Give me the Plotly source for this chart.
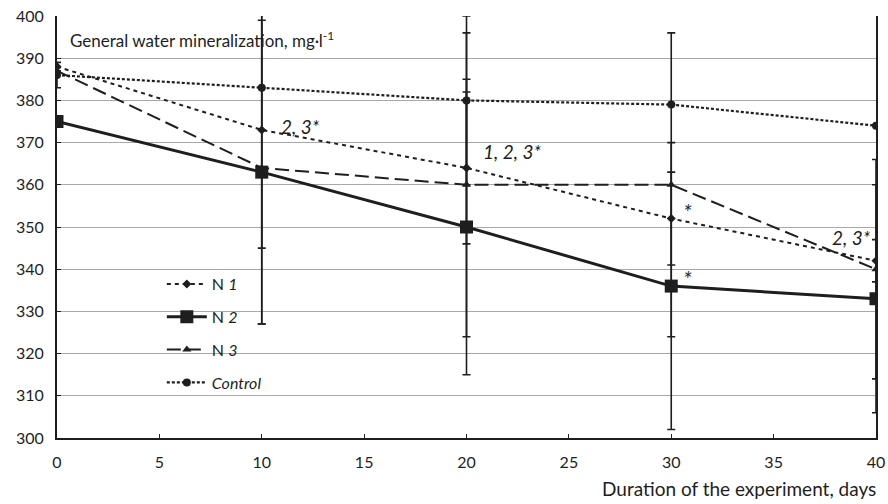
import plotly.graph_objects as go

days = [0, 10, 20, 30, 40]
n1 = [388, 373, 364, 352, 342]
n2 = [375, 363, 350, 336, 333]
n3 = [387, 364, 360, 360, 340]
control = [386, 383, 380, 379, 374]

n1_err = [0, 28, 18, 11, 5]
n2_err = [0, 36, 35, 34, 27]
n3_err = [0, 37, 36, 36, 26]
control_err = [3, 0, 20, 0, 0]

y_ticks = [300, 310, 320, 330, 340, 350, 360, 370, 380, 390, 400]
x_ticks = [0, 5, 10, 15, 20, 25, 30, 35, 40]

notes = [
    (11.9, 373.8, "2, 3*"),
    (22.2, 367.8, "1, 2, 3*"),
    (30.8, 353.6, "*"),
    (30.8, 337.9, "*"),
    (38.8, 347.6, "2, 3*"),
]

INK = "#1e1e1e"
FONT = "Lato, Open Sans, sans-serif"

fig = go.Figure()

def add(name, ys, errs, dash, width, symbol, size, group):
    fig.add_trace(go.Scatter(
        x=days, y=ys, name=name, mode="lines+markers",
        legendgroup=group,
        line=dict(color=INK, width=width, dash=dash),
        marker=dict(symbol=symbol, size=size, color=INK),
        error_y=dict(type="data", array=errs, visible=True,
                     color=INK, thickness=1.6, width=4),
    ))

add("N <i>1</i>", n1, n1_err, "4px,4px", 2, "diamond", 7, "g1")
add("N <i>2</i>", n2, n2_err, "solid", 3, "square", 13, "g2")
add("N <i>3</i>", n3, n3_err, "14px,6px", 2, "triangle-up", 8, "g3")
add("<i>Control</i>", control, control_err, "3px,2px", 2.2, "circle", 8, "g4")

for x, y, t in notes:
    sz = 22 if t == "*" else 19
    fig.add_annotation(x=x, y=y, text="<i>" + t + "</i>", showarrow=False,
                       font=dict(size=sz, color=INK, family=FONT))

fig.add_annotation(x=0.013, y=0.945, xref="paper", yref="paper",
                   text="General water mineralization, mg·l<sup>-1</sup>",
                   showarrow=False, xanchor="left", yanchor="middle",
                   font=dict(size=17, color=INK, family=FONT))

fig.add_annotation(x=1.002, y=-0.12, xref="paper", yref="paper",
                   text="Duration of the experiment, days",
                   showarrow=False, xanchor="right", yanchor="middle",
                   font=dict(size=19, color=INK, family=FONT))

fig.update_layout(
    width=888, height=504,
    margin=dict(l=57, r=12, t=16, b=66),
    paper_bgcolor="white", plot_bgcolor="white",
    font=dict(family=FONT, color=INK, size=15),
    legend=dict(x=0.128, y=0.405, xanchor="left", yanchor="top",
                bgcolor="rgba(255,255,255,0)", tracegroupgap=9,
                font=dict(size=16, color=INK, family=FONT),
                itemwidth=40),
    showlegend=True,
)

fig.update_xaxes(range=[0, 40], tickvals=x_ticks, showgrid=False,
                 showline=True, linecolor=INK, linewidth=2,
                 ticks="inside", ticklen=4, tickcolor=INK,
                 tickfont=dict(size=16), zeroline=False,
                 automargin=False, ticklabelstandoff=9)
fig.update_yaxes(range=[300, 400], tickvals=y_ticks, showgrid=True,
                 gridcolor="#a8a8a8", gridwidth=1,
                 showline=True, linecolor=INK, linewidth=2, mirror=True,
                 ticks="inside", ticklen=4, tickcolor=INK,
                 tickfont=dict(size=16), zeroline=False,
                 ticklabelstandoff=8, automargin=False)

fig.write_html("out.html")
